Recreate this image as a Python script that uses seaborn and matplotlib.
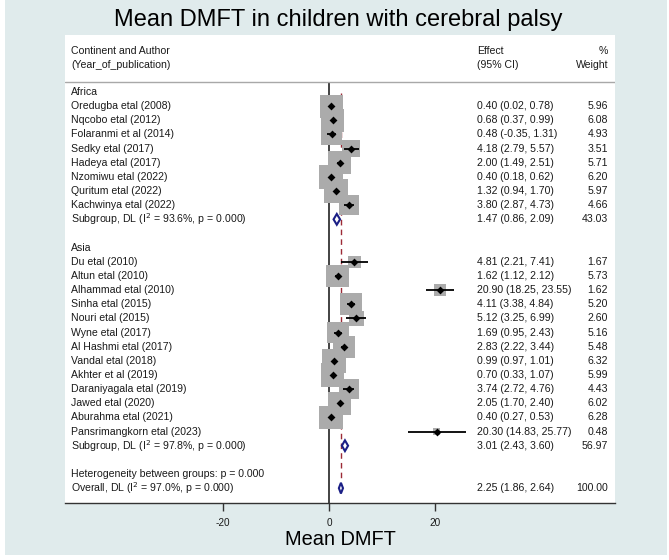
import numpy as np
import pandas as pd
import matplotlib
matplotlib.use("Agg")
import matplotlib.pyplot as plt
import seaborn as sns

sns.set_style("white")
plt.rcParams['font.family'] = ['Liberation Sans', 'DejaVu Sans']

# ---------------- data ----------------
africa_authors = ["Oredugba etal (2008)", "Nqcobo etal (2012)", "Folaranmi et al (2014)",
                  "Sedky etal (2017)", "Hadeya etal (2017)", "Nzomiwu etal (2022)",
                  "Quritum etal (2022)", "Kachwinya etal (2022)"]
africa_eff = [0.40, 0.68, 0.48, 4.18, 2.00, 0.40, 1.32, 3.80]
africa_lo = [0.02, 0.37, -0.35, 2.79, 1.49, 0.18, 0.94, 2.87]
africa_hi = [0.78, 0.99, 1.31, 5.57, 2.51, 0.62, 1.70, 4.73]
africa_w = [5.96, 6.08, 4.93, 3.51, 5.71, 6.20, 5.97, 4.66]

asia_authors = ["Du etal (2010)", "Altun etal (2010)", "Alhammad etal (2010)", "Sinha etal (2015)",
                "Nouri etal (2015)", "Wyne etal (2017)", "Al Hashmi etal (2017)", "Vandal etal (2018)",
                "Akhter et al (2019)", "Daraniyagala etal (2019)", "Jawed etal (2020)",
                "Aburahma etal (2021)", "Pansrimangkorn etal (2023)"]
asia_eff = [4.81, 1.62, 20.90, 4.11, 5.12, 1.69, 2.83, 0.99, 0.70, 3.74, 2.05, 0.40, 20.30]
asia_lo = [2.21, 1.12, 18.25, 3.38, 3.25, 0.95, 2.22, 0.97, 0.33, 2.72, 1.70, 0.27, 14.83]
asia_hi = [7.41, 2.12, 23.55, 4.84, 6.99, 2.43, 3.44, 1.01, 1.07, 4.76, 2.40, 0.53, 25.77]
asia_w = [1.67, 5.73, 1.62, 5.20, 2.60, 5.16, 5.48, 6.32, 5.99, 4.43, 6.02, 6.28, 0.48]

sub_labels = ["Subgroup, DL (I$^{2}$ = 93.6%, p = 0.000)", "Subgroup, DL (I$^{2}$ = 97.8%, p = 0.000)"]
sub_eff = [1.47, 3.01]
sub_lo = [0.86, 2.43]
sub_hi = [2.09, 3.60]
sub_w = [43.03, 56.97]

overall_label = "Overall, DL (I$^{2}$ = 97.0%, p = 0.000)"
overall_eff, overall_lo, overall_hi, overall_w = 2.25, 1.86, 2.64, 100.00
het_label = "Heterogeneity between groups: p = 0.000"

x_ticks = [-20, 0, 20]

# ---------------- layout rows ----------------
rows_africa = list(range(1, 1 + len(africa_authors)))
row_sub_africa = rows_africa[-1] + 1
row_asia_head = row_sub_africa + 2
rows_asia = list(range(row_asia_head + 1, row_asia_head + 1 + len(asia_authors)))
row_sub_asia = rows_asia[-1] + 1
row_het = row_sub_asia + 2
row_overall = row_het + 1

studies = pd.DataFrame({
    "author": africa_authors + asia_authors,
    "eff": africa_eff + asia_eff,
    "lo": africa_lo + asia_lo,
    "hi": africa_hi + asia_hi,
    "w": africa_w + asia_w,
    "row": rows_africa + rows_asia,
})

W, H = 669, 560
fig = plt.figure(figsize=(W / 100, H / 100), dpi=100)
fig.patch.set_facecolor("white")
bg = "#e0ebec"
fig.add_artist(plt.Rectangle((5 / W, 5 / H), (667 - 5) / W, 1 - 5 / H, transform=fig.transFigure,
                             facecolor=bg, edgecolor="none", zorder=-10))

ax_l, ax_r, ax_t, ax_b = 65, 615, 35, 503
ax = fig.add_axes([ax_l / W, 1 - ax_b / H, (ax_r - ax_l) / W, (ax_b - ax_t) / H])
ax.set_facecolor("white")

ppu = 5.3
x0 = 329
ax.set_xlim((ax_l - x0) / ppu, (ax_r - x0) / ppu)
ax.set_ylim(29.05, -4.03)

# boxes (area proportional to weight)
k = 46.5
wmax = max(studies["w"])
sns.scatterplot(data=studies, x="eff", y="row", size="w", sizes=(0, k * wmax), size_norm=(0, wmax),
                marker="s", color="#ababab", linewidth=0, legend=False, ax=ax, zorder=2)
# CIs
ax.hlines(studies["row"], studies["lo"], studies["hi"], color="black", lw=1.3, zorder=3)
# point estimates
sns.scatterplot(data=studies, x="eff", y="row", marker="D", color="black", s=16, linewidth=0,
                legend=False, ax=ax, zorder=4)

# reference lines
ax.vlines(0, -0.7, 29.05, color="#222222", lw=1.2, zorder=1)
ax.vlines(overall_eff, 0.1, row_overall - 0.6, color="#9c2a36", lw=1.0, linestyles=(0, (4, 3)), zorder=1)

# diamonds
def diamond(e, lo, hi, r, h=0.38):
    ax.fill([lo, e, hi, e, lo], [r, r - h, r, r + h, r], facecolor="white", edgecolor="#1b1f86",
            lw=1.5, zorder=5)

diamond(sub_eff[0], sub_lo[0], sub_hi[0], row_sub_africa)
diamond(sub_eff[1], sub_lo[1], sub_hi[1], row_sub_asia)
diamond(overall_eff, overall_lo, overall_hi, row_overall)

# text columns
fs = 7.6
tc = "#1a1a1a"
xl = (71 - x0) / ppu
xe = (477 - x0) / ppu
xw = (608 - x0) / ppu

def txt(x, y, s, ha="left"):
    ax.text(x, y, s, ha=ha, va="center", fontsize=fs, color=tc, zorder=6)

txt(xl, -2.9, "Continent and Author")
txt(xl, -1.9, "(Year_of_publication)")
txt(xe, -2.9, "Effect")
txt(xe, -1.9, "(95% CI)")
txt(xw, -2.9, "%", ha="right")
txt(xw, -1.9, "Weight", ha="right")
ax.axhline(-0.7, color="#a8a8a8", lw=1.0)

txt(xl, 0, "Africa")
txt(xl, row_asia_head, "Asia")
for _, r in studies.iterrows():
    txt(xl, r["row"], r["author"])
    txt(xe, r["row"], f"{r['eff']:.2f} ({r['lo']:.2f}, {r['hi']:.2f})")
    txt(xw, r["row"], f"{r['w']:.2f}", ha="right")

for lab, e, lo, hi, w, r in zip(sub_labels, sub_eff, sub_lo, sub_hi, sub_w, [row_sub_africa, row_sub_asia]):
    txt(xl, r, lab)
    txt(xe, r, f"{e:.2f} ({lo:.2f}, {hi:.2f})")
    txt(xw, r, f"{w:.2f}", ha="right")

txt(xl, row_het, het_label)
txt(xl, row_overall, overall_label)
txt(xe, row_overall, f"{overall_eff:.2f} ({overall_lo:.2f}, {overall_hi:.2f})")
txt(xw, row_overall, f"{overall_w:.2f}", ha="right")

# axes styling
for s in ["left", "right", "top"]:
    ax.spines[s].set_visible(False)
ax.spines["bottom"].set_color("#333333")
ax.spines["bottom"].set_linewidth(1.0)
ax.set_yticks([])
ax.set_xticks(x_ticks)
ax.set_xticklabels([str(t) for t in x_ticks])
ax.tick_params(axis="x", direction="out", length=6, width=1, color="#333333", labelsize=7.2,
               pad=5, labelcolor=tc, bottom=True)
ax.set_xlabel("Mean DMFT", fontsize=14.4, color="black", labelpad=1)
ax.set_ylabel("")

fig.text(338 / W, 1 - 20 / H, "Mean DMFT in children with cerebral palsy", ha="center", va="center",
         fontsize=17, color="black")

fig.savefig("out.png", dpi=100)
